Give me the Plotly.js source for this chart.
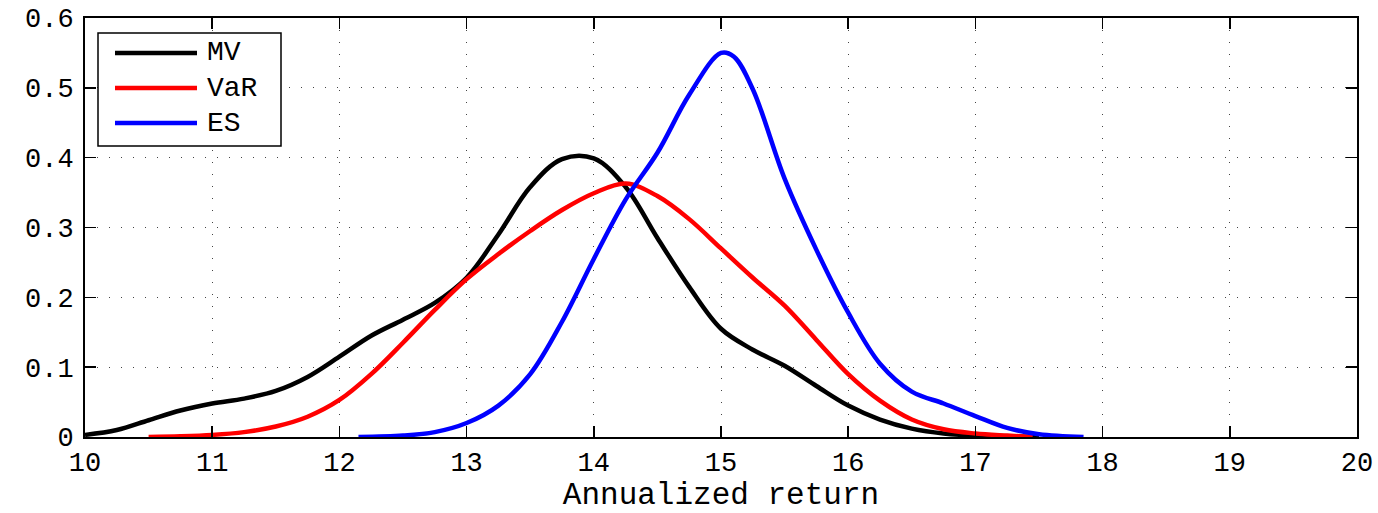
<!DOCTYPE html>
<html>
<head>
<meta charset="utf-8">
<script src="https://cdn.plot.ly/plotly-3.0.1.min.js"></script>
<style>html,body{margin:0;padding:0;background:#fff;}#chart{width:1378px;height:513px;}</style>
</head>
<body>
<div id="chart"></div>
<script>
// Data
const seriesNames = ["MV", "VaR", "ES"];
const mvX = [10, 10.25, 10.5, 10.75, 11, 11.25, 11.5, 11.75, 12, 12.25, 12.5, 12.75, 13, 13.25, 13.5, 13.75, 14, 14.25, 14.5, 14.75, 15, 15.25, 15.5, 15.75, 16, 16.25, 16.5, 16.75, 17, 17.25, 17.5];
const mvY = [0.003, 0.01, 0.024, 0.038, 0.048, 0.055, 0.066, 0.086, 0.115, 0.145, 0.168, 0.192, 0.228, 0.29, 0.358, 0.398, 0.399, 0.358, 0.285, 0.215, 0.155, 0.125, 0.102, 0.073, 0.045, 0.025, 0.012, 0.005, 0.002, 0.001, 0.0];
const varX = [10.5, 10.75, 11, 11.25, 11.5, 11.75, 12, 12.25, 12.5, 12.75, 13, 13.25, 13.5, 13.75, 14, 14.25, 14.5, 14.75, 15, 15.25, 15.5, 15.75, 16, 16.25, 16.5, 16.75, 17, 17.25, 17.45];
const varY = [0.0, 0.001, 0.003, 0.007, 0.015, 0.029, 0.053, 0.09, 0.135, 0.182, 0.226, 0.262, 0.295, 0.325, 0.349, 0.363, 0.345, 0.312, 0.27, 0.228, 0.188, 0.139, 0.09, 0.052, 0.025, 0.011, 0.005, 0.002, 0.0];
const esX = [12.15, 12.5, 12.75, 13, 13.25, 13.5, 13.75, 14, 14.25, 14.5, 14.75, 15, 15.1, 15.25, 15.5, 15.75, 16, 16.25, 16.5, 16.75, 17, 17.25, 17.5, 17.85];
const esY = [0.0, 0.002, 0.007, 0.02, 0.045, 0.09, 0.165, 0.255, 0.34, 0.407, 0.49, 0.55, 0.545, 0.498, 0.37, 0.268, 0.178, 0.105, 0.065, 0.048, 0.03, 0.013, 0.004, 0.0];
const xTicks = [10, 11, 12, 13, 14, 15, 16, 17, 18, 19, 20];
const yTicks = [0, 0.1, 0.2, 0.3, 0.4, 0.5, 0.6];
const yTickText = ["0", "0.1", "0.2", "0.3", "0.4", "0.5", "0.6"];
const xTitle = "Annualized return";

const colors = ["#000000", "#ff0000", "#0000ff"];
const xs = [mvX, varX, esX];
const ys = [mvY, varY, esY];
const traces = seriesNames.map((n, i) => ({
  type: "scatter", mode: "lines", name: n, x: xs[i], y: ys[i], showlegend: false,
  line: {color: colors[i], width: 4.5, shape: "spline", smoothing: 1}
}));

const fam = "Courier New, Nimbus Mono PS, FreeMono, Liberation Mono, monospace";
const font = {family: fam, size: 27, color: "#000"};

// plot area in pixels (for the hand-drawn legend box)
const W = 1378, H = 513, mL = 85, mR = 21, mT = 18, mB = 76;
const pw = W - mL - mR, ph = H - mT - mB;
const px2x = p => (p - mL) / pw;
const py2y = p => (H - mB - p) / ph;
const legBox = {x0: 98, x1: 281, y0: 33, y1: 146};
const legLine = {x0: 115, x1: 197}, legTextX = 205, legRow0 = 53, legRowStep = 35;

const shapes = [{type: "rect", xref: "paper", yref: "paper",
  x0: px2x(legBox.x0), x1: px2x(legBox.x1), y0: py2y(legBox.y1), y1: py2y(legBox.y0),
  fillcolor: "#fff", line: {color: "#000", width: 1.5}, layer: "above"}];
const annotations = [];
seriesNames.forEach((n, i) => {
  const yy = py2y(legRow0 + i * legRowStep);
  shapes.push({type: "line", xref: "paper", yref: "paper", x0: px2x(legLine.x0), x1: px2x(legLine.x1),
    y0: yy, y1: yy, line: {color: colors[i], width: 4.5}, layer: "above"});
  annotations.push({xref: "paper", yref: "paper", x: px2x(legTextX), y: yy, xanchor: "left", yanchor: "middle",
    text: n, showarrow: false, font: {family: fam, size: 28, color: "#000"}});
});

const axisCommon = {
  showline: true, linecolor: "#000", linewidth: 2, mirror: "ticks",
  ticks: "inside", ticklen: 11, tickcolor: "#000", tickwidth: 1.5,
  showgrid: true, gridcolor: "#444", gridwidth: 1, griddash: "1px,11px",
  zeroline: false, tickfont: font
};
const layout = {
  width: W, height: H,
  margin: {l: mL, r: mR, t: mT, b: mB},
  paper_bgcolor: "#fff", plot_bgcolor: "#fff",
  font: font,
  showlegend: false,
  shapes: shapes, annotations: annotations,
  xaxis: Object.assign({}, axisCommon, {range: [10, 20], tickvals: xTicks, ticktext: xTicks.map(String),
    title: {text: xTitle, font: {family: fam, size: 31, color: "#000"}, standoff: 5}}),
  yaxis: Object.assign({}, axisCommon, {range: [0, 0.6], tickvals: yTicks, ticktext: yTickText, ticklabelstandoff: 4})
};
Plotly.newPlot("chart", traces, layout, {displayModeBar: false, staticPlot: true});
</script>
</body>
</html>
